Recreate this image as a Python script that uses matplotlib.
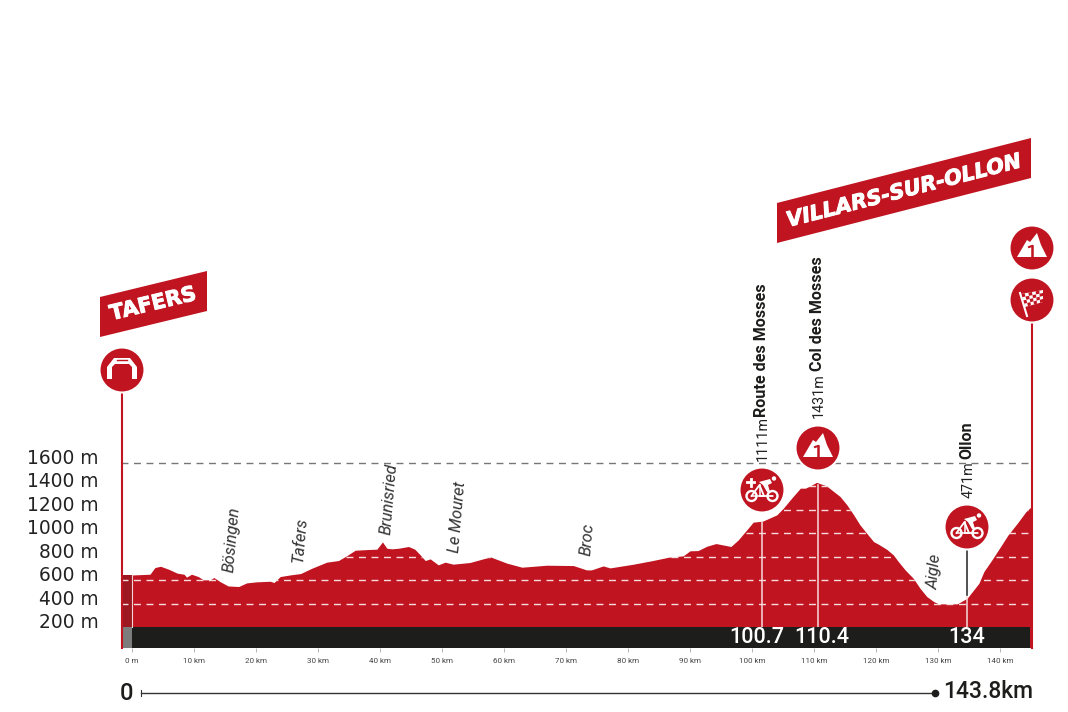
"""
Stage profile: Tafers to Villars-sur-Ollon
"""
import matplotlib
matplotlib.use("Agg")
import matplotlib.pyplot as plt
import matplotlib.patheffects as pe
from matplotlib.patches import Circle, Polygon
from matplotlib.transforms import ScaledTranslation

# ---------------------------------------------------------------------------
# Data
# ---------------------------------------------------------------------------
profile_km = [-1.8, 0.2, 2.9, 3.7, 4.6, 5.9, 7.3, 8.4, 8.8, 9.6, 10.7, 11.5, 12.6, 13.2,
              14.2, 15.5, 17.2, 18.5, 20.1, 22.3, 22.9, 23.9, 25.5, 27.2, 29, 31.4, 33.3,
              34.6, 36, 38.1, 39.5, 40.4, 41.1, 41.9, 43, 44.6, 45.6, 46.5, 47.3, 48.1,
              49.4, 50.5, 51.8, 54.5, 56.4, 57.8, 58.8, 60.5, 62.9, 66.9, 71.2, 73.3,
              74.1, 76, 77.1, 80.9, 84, 86.5, 88.9, 90, 91.3, 92.7, 94.2, 96.6, 97.8,
              100.2, 101.7, 104, 105.05, 106.4, 107.8, 108.6, 109.4, 110.4, 112, 114.2,
              115.3, 116.4, 117.4, 118.5, 119.6, 120.4, 121.7, 122.8, 123.6, 124.7, 126,
              127.1, 128.2, 129.3, 130.1, 133.1, 134.7, 136.6, 137.4, 138.7, 140.1,
              141.3, 142.8, 144.2, 145.2]
profile_m = [644, 644, 650, 707, 718, 693, 659, 650, 625, 650, 630, 602, 602, 622,
             587, 550, 545, 576, 585, 590, 579, 630, 644, 656, 701, 753, 767,
             807, 855, 861, 864, 926, 872, 867, 872, 887, 864, 815, 767, 781,
             730, 753, 736, 750, 778, 798, 778, 744, 710, 727, 724, 687,
             687, 721, 704, 736, 767, 795, 807, 850, 852, 889, 912, 887, 944,
             1095, 1103, 1157, 1214, 1300, 1385, 1385, 1405, 1435, 1405, 1314,
             1243, 1157, 1072, 1000, 929, 906, 864, 815, 758, 687, 616,
             530, 459, 417, 397, 397, 445, 573, 673, 773, 887,
             986, 1086, 1186, 1234]

km_ticks = [0, 10, 20, 30, 40, 50, 60, 70, 80, 90, 100, 110, 120, 130, 140]
km_labels = ["0 m", "10 km", "20 km", "30 km", "40 km", "50 km", "60 km", "70 km",
             "80 km", "90 km", "100 km", "110 km", "120 km", "130 km", "140 km"]
alt_ticks = [200, 400, 600, 800, 1000, 1200, 1400, 1600]

town_names = ["Bösingen", "Tafers", "Brunisried", "Le Mouret", "Broc", "Aigle"]
town_km = [16.1, 27.1, 41.5, 52.6, 73.5, 129.4]
town_m = [944, 944, 1294, 1140, 944, 670]

point_names = ["Route des Mosses", "Col des Mosses", "Ollon"]
point_km = [101.6, 110.6, 134.7]
point_m = [1111, 1431, 471]
point_dist = ["100.7", "110.4", "134"]

# ---------------------------------------------------------------------------
# Style
# ---------------------------------------------------------------------------
RED = "#c01521"
DARK_RED = "#9c1720"
BLACK = "#1d1d1b"
W, H = 1068, 712
X_LEFT, X_RIGHT, Y_TOP, Y_BOTTOM = 121, 1032, 463, 648

plt.rcParams["font.family"] = ["Roboto", "DejaVu Sans"]


def cyclist(ov, cx, cy, plus=False):
    for dx in (-10.5, 10.5):
        ov.add_patch(Circle((cx + dx, cy + 6), 5, fc="none", ec="white", lw=1.7))
    ov.plot([cx - 10.5, cx - 2.5, cx + 2, cx + 10.5], [cy + 6, cy - 5, cy + 6, cy + 6], color="white", lw=1.3)
    ov.plot([cx - 2.5, cx - 2.5, cx + 2, cx - 10.5], [cy - 5, cy + 6, cy + 6, cy + 6], color="white", lw=1.1)
    ov.add_patch(Polygon([(cx - 3, cy - 8), (cx + 8, cy - 11), (cx + 10, cy - 7),
                          (cx + 6, cy - 5), (cx + 8, cy + 2), (cx + 5, cy + 2),
                          (cx + 1, cy - 5)], fc="white", ec="none"))
    ov.add_patch(Circle((cx + 12, cy - 11.5), 2.2, fc="white", ec="none"))
    if plus:
        ov.plot([cx - 15, cx - 8], [cy - 8, cy - 8], color="white", lw=2)
        ov.plot([cx - 11.5, cx - 11.5], [cy - 11.5, cy - 4.5], color="white", lw=2)


def mountain(ov, cx, cy):
    ov.add_patch(Polygon([(cx - 15, cy + 9), (cx - 5, cy - 8), (cx - 2, cy - 6), (cx + 5, cy - 15),
                          (cx + 9, cy - 3), (cx + 15, cy + 9)], fc="white", ec="none"))
    ov.plot([cx, cx], [cy - 2, cy + 9], color=RED, lw=1.8)
    ov.plot([cx - 3, cx], [cy - 1, cy - 2], color=RED, lw=1.5)


def flag(ov, cx, cy):
    ov.plot([cx - 12, cx - 5], [cy - 7, cy + 16], color="white", lw=1.5)
    corners = [(-11, -6), (11, -10), (11, 2), (-7, 7)]
    ov.add_patch(Polygon([(cx + a, cy + b) for a, b in corners], fc="white", ec="none"))

    def blend(u, v):
        top = [corners[0][k] + (corners[1][k] - corners[0][k]) * u for k in (0, 1)]
        bot = [corners[3][k] + (corners[2][k] - corners[3][k]) * u for k in (0, 1)]
        return cx + top[0] + (bot[0] - top[0]) * v, cy + top[1] + (bot[1] - top[1]) * v

    for i in range(6):
        for j in range(4):
            if (i + j) % 2 == 0:
                ov.add_patch(Polygon([blend(i / 6, j / 4), blend((i + 1) / 6, j / 4),
                                      blend((i + 1) / 6, (j + 1) / 4), blend(i / 6, (j + 1) / 4)],
                                     fc=RED, ec="none"))


def arch(ov, cx, cy):
    ov.add_patch(Polygon([(cx - 15, cy + 9), (cx - 15, cy - 3), (cx - 8, cy - 12), (cx + 8, cy - 12),
                          (cx + 15, cy - 3), (cx + 15, cy + 9), (cx + 10, cy + 9), (cx + 10, cy - 3),
                          (cx + 7, cy - 6), (cx - 7, cy - 6), (cx - 10, cy - 3), (cx - 10, cy + 9)],
                         fc="white", ec="none"))
    ov.plot([cx - 5, cx + 5], [cy - 10, cy - 10], color=RED, lw=1)


def badge(ov, cx, cy, r=22.5):
    ov.add_patch(Circle((cx, cy), r, fc=RED, ec="white", lw=1.5, zorder=1))


def main():
    fig = plt.figure(figsize=(W / 100, H / 100), dpi=100, facecolor="white")
    ax = fig.add_axes([X_LEFT / W, 1 - Y_BOTTOM / H, (X_RIGHT - X_LEFT) / W, (Y_BOTTOM - Y_TOP) / H])
    ax.set_xlim(-1.77, 145.16)
    ax.set_ylim(20, 1600)
    for side in ax.spines.values():
        side.set_visible(False)
    ax.patch.set_alpha(0)

    # Elevation area
    fill = ax.fill_between(profile_km, profile_m, 200, color=RED, lw=0, zorder=2)
    ax.fill_between([-1.77, 0], [644, 644], 200, color=DARK_RED, lw=0, zorder=2.1)
    ax.axhspan(20, 200, color=BLACK, lw=0, zorder=3)
    ax.fill_between([-1.77, 0], 20, 200, color="#7d7d7d", lw=0, zorder=3.1)
    ax.fill_between([144.85, 145.16], 20, 200, color=RED, lw=0, zorder=3.1)
    ax.plot([0.05, 0.05], [200, 644], color="#f0d5d5", lw=0.8, zorder=3.2)

    # Gridlines: grey at the top, white inside the area
    dash = (0, (5, 4))
    ax.plot([-1.77, 145.16], [1600, 1600], color="#777777", lw=1, ls=dash, zorder=1, clip_on=False)
    clip = fill.get_paths()[0]
    for level in alt_ticks[1:-1]:
        line, = ax.plot([-1.77, 145.16], [level, level], color="#f6dcdc", lw=1, ls=dash, zorder=2.5)
        line.set_clip_path(clip, ax.transData)

    # Axis ticks
    ax.set_xticks(km_ticks)
    ax.set_xticklabels(km_labels, fontsize=5.8, color="#444444")
    ax.tick_params(axis="x", length=3, width=0.6, color="#aaaaaa", pad=4)
    ax.set_yticks(alt_ticks)
    ax.set_yticklabels([f"{a} m" for a in alt_ticks], fontsize=13.4, color="#222222", family="DejaVu Sans")
    ax.tick_params(axis="y", length=0, pad=16)
    shift = ScaledTranslation(0, 6.5 / 100, fig.dpi_scale_trans)
    for lab in ax.get_yticklabels():
        lab.set_transform(lab.get_transform() + shift)

    # Town labels
    for name, km, m in zip(town_names, town_km, town_m):
        ax.text(km, m, name, rotation=85, style="italic", fontsize=11.8, color="#333333",
                ha="center", va="center", zorder=5, clip_on=False)

    # Climbs and sprints
    dy_height = [59, 65, 97]
    dy_name = [103, 112, 136]
    dist_dx = [-5, 4, -1]
    for i, (name, km, m, dist) in enumerate(zip(point_names, point_km, point_m, point_dist)):
        ax.plot([km, km], [200, m - 15], color="#f6dcdc", lw=1.1, zorder=2.6)
        ax.annotate(f"{m}m", xy=(km, m), xytext=(1, dy_height[i]), textcoords="offset pixels",
                    rotation=90, ha="center", va="bottom", fontsize=10.3, color="#222222",
                    annotation_clip=False)
        ax.annotate(name, xy=(km, m), xytext=(0, dy_name[i]), textcoords="offset pixels",
                    rotation=90, ha="center", va="bottom", fontsize=11.6, color=BLACK,
                    fontweight="bold", annotation_clip=False)
        ax.annotate(dist, xy=(km, 110), xytext=(dist_dx[i], 0),
                    textcoords="offset pixels", ha="center", va="center", color="white",
                    fontsize=15.5, fontweight="medium", zorder=6, annotation_clip=False)
    ax.plot([point_km[2], point_km[2]], [point_m[2], 880], color="#333333", lw=1.2, zorder=2, clip_on=False)

    # Overlay in figure pixels for banners and icons
    ov = fig.add_axes([0, 0, 1, 1], zorder=10)
    ov.set_xlim(0, W)
    ov.set_ylim(H, 0)
    ov.axis("off")

    heavy = [pe.withStroke(linewidth=0.7, foreground="white")]
    ov.add_patch(Polygon([(777, 203), (1031, 138), (1031, 178), (777, 243)], fc=RED, ec="none"))
    ov.text(904, 191, "VILLARS-SUR-OLLON", color="white", fontsize=15, family="DejaVu Sans",
            fontweight="bold", style="italic", rotation=14.4, ha="center", va="center",
            rotation_mode="anchor", path_effects=heavy)
    ov.add_patch(Polygon([(100, 297), (207, 271), (207, 311), (100, 337)], fc=RED, ec="none"))
    ov.text(153, 304, "TAFERS", color="white", fontsize=15, family="DejaVu Sans",
            fontweight="bold", rotation=13.5, ha="center", va="center", rotation_mode="anchor",
            path_effects=heavy)

    # Start and finish posts
    ov.plot([121.5, 121.5], [392, 648], color=RED, lw=1.5, zorder=0.5)
    ov.plot([1032, 1032], [320, 648], color=RED, lw=1.5, zorder=0.5)

    badge(ov, 122, 370)
    arch(ov, 122, 370)
    badge(ov, 1032, 248)
    mountain(ov, 1032, 248)
    badge(ov, 1032, 300)
    flag(ov, 1032, 300)
    badge(ov, 762, 490)
    cyclist(ov, 762, 490, plus=True)
    badge(ov, 818, 448)
    mountain(ov, 818, 448)
    badge(ov, 967, 527)
    cyclist(ov, 967, 527)

    # Distance line
    ov.plot([141, 935], [693, 693], color="#333333", lw=1)
    ov.plot([141, 141], [690, 696], color="#333333", lw=0.8)
    ov.plot([935], [693], marker="o", ms=4.5, color=BLACK)
    ov.text(120, 694, "0", fontsize=17, color=BLACK, fontweight="medium", ha="left", va="center")
    ov.text(943, 692, "143.8km", fontsize=16.5, color=BLACK, fontweight="medium", ha="left", va="center")

    fig.savefig("out.png", dpi=100, facecolor="white")
    plt.close(fig)


if __name__ == "__main__":
    main()
